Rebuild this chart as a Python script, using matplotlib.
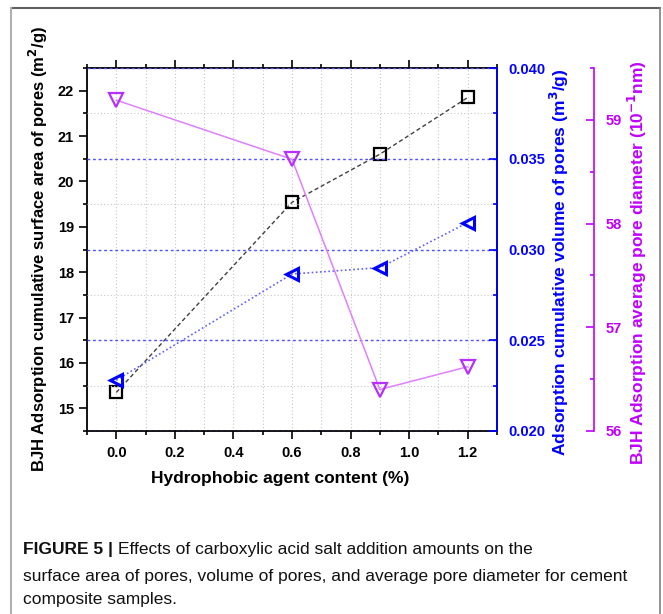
import matplotlib
matplotlib.use("Agg")
import matplotlib.pyplot as plt
from matplotlib.ticker import MultipleLocator, FormatStrFormatter
from matplotlib import font_manager
from matplotlib.lines import Line2D

# hydrophobic agent content (%)
content = [0.0, 0.6, 0.9, 1.2]
# BJH cumulative surface area of pores (m2/g)
surface_area = [15.35, 19.54, 20.60, 21.85]
# cumulative volume of pores (m3/g)
pore_volume = [0.0228, 0.02865, 0.0290, 0.03148]
# BJH average pore diameter (10^-1 nm)
pore_diameter = [59.19, 58.62, 56.40, 56.62]

x_ticks = [0.0, 0.2, 0.4, 0.6, 0.8, 1.0, 1.2]

BLUE = "#0000ff"
MAG = "#c000ff"
TICK_FS = 10.5

plt.rcParams['font.family'] = ['Liberation Sans', 'DejaVu Sans']
names = {f.name for f in font_manager.fontManager.ttflist}
cap_font = 'Liberation Sans Narrow' if 'Liberation Sans Narrow' in names else 'Liberation Sans'

fig = plt.figure(figsize=(6.63, 6.14), dpi=100)
ax1 = fig.add_axes([87 / 663, 1 - 431 / 614, 410 / 663, 363 / 614])
ax2 = ax1.twinx()
ax3 = ax1.twinx()

# grid: vertical on main axis, horizontal from the volume axis
ax1.set_xlim(-0.1, 1.3)
ax1.set_ylim(14.5, 22.5)
ax1.set_xticks(x_ticks)
ax1.xaxis.set_minor_locator(MultipleLocator(0.1))
ax1.xaxis.set_major_formatter(FormatStrFormatter('%.1f'))
ax1.yaxis.set_major_locator(MultipleLocator(1))
ax1.yaxis.set_minor_locator(MultipleLocator(0.5))
ax1.grid(True, axis='x', which='both', color='#c8c8c8', linestyle=(0, (1, 2)), linewidth=0.8)
ax1.tick_params(axis='x', which='both', direction='out', top=True, labeltop=False,
                width=1.2, labelsize=TICK_FS, pad=5)
ax1.tick_params(axis='x', which='major', length=6)
ax1.tick_params(axis='x', which='minor', length=3)
ax1.tick_params(axis='y', which='both', direction='out', left=True, right=False,
                width=1.2, labelsize=TICK_FS)
ax1.tick_params(axis='y', which='major', length=6)
ax1.tick_params(axis='y', which='minor', length=3)
for lab in ax1.get_xticklabels() + ax1.get_yticklabels():
    lab.set_fontweight('bold')
for s in ax1.spines.values():
    s.set_linewidth(1.3)

ax2.set_ylim(0.020, 0.040)
ax2.yaxis.set_major_locator(MultipleLocator(0.005))
ax2.yaxis.set_minor_locator(MultipleLocator(0.0025))
ax2.yaxis.set_major_formatter(FormatStrFormatter('%.3f'))
ax2.grid(True, axis='y', which='major', color='#5050ff', linestyle=(0, (2, 2)), linewidth=1.0)
ax2.grid(True, axis='y', which='minor', color='#c8c8c8', linestyle=(0, (1, 2)), linewidth=0.8)
ax2.tick_params(axis='y', which='both', direction='in', colors=BLUE, width=1.2,
                labelsize=TICK_FS, pad=8)
ax2.tick_params(axis='y', which='major', length=6)
ax2.tick_params(axis='y', which='minor', length=3)
ax2.spines['right'].set_color(BLUE)
ax2.spines['right'].set_linewidth(1.3)
for lab in ax2.get_yticklabels():
    lab.set_fontweight('bold')

ax3.set_ylim(56, 59.5)
ax3.yaxis.set_major_locator(MultipleLocator(1))
ax3.yaxis.set_minor_locator(MultipleLocator(0.5))
ax3.spines['right'].set_position(('axes', 1.2366))
ax3.spines['right'].set_color(MAG)
ax3.spines['right'].set_linewidth(1.2)
ax3.tick_params(axis='y', which='both', direction='in', colors=MAG, width=1.2,
                labelsize=TICK_FS, pad=8)
ax3.tick_params(axis='y', which='major', length=6)
ax3.tick_params(axis='y', which='minor', length=3)
for lab in ax3.get_yticklabels():
    lab.set_fontweight('bold')
for side in ('top', 'bottom', 'left'):
    ax3.spines[side].set_visible(False)
    ax2.spines[side].set_visible(False)

# series
ax1.plot(content, surface_area, color='#404040', linestyle=(0, (3, 2)), linewidth=1.0,
         marker='s', markersize=8, markerfacecolor='none', markeredgecolor='black',
         markeredgewidth=1.6, zorder=5)
ax2.plot(content, pore_volume, color='#6060ff', linestyle=(0, (1, 1.5)), linewidth=1.2,
         marker='<', markersize=9, markerfacecolor='none', markeredgecolor=BLUE,
         markeredgewidth=2.2, zorder=5)
ax3.plot(content, pore_diameter, color='#e080ff', linestyle='-', linewidth=1.1,
         marker='v', markersize=10, markerfacecolor='none', markeredgecolor='#b830ff',
         markeredgewidth=1.6, zorder=5)

# axis titles
fig.text(280 / 663, 1 - 478 / 614, 'Hydrophobic agent content (%)', ha='center', va='center',
         fontsize=12.5, fontweight='bold')
fig.text(38 / 663, 1 - 249 / 614, 'BJH Adsorption cumulative surface area of pores (m$^\\mathbf{2}$/g)',
         rotation=90, ha='center', va='center', fontsize=12, fontweight='bold')
fig.text(559 / 663, 1 - 262 / 614, 'Adsorption cumulative volume of pores (m$^\\mathbf{3}$/g)',
         rotation=90, ha='center', va='center', fontsize=12.6, fontweight='bold', color=BLUE)
fig.text(637 / 663, 1 - 263 / 614, 'BJH Adsorption average pore diameter (10$^\\mathbf{-1}$nm)',
         rotation=90, ha='center', va='center', fontsize=12.5, fontweight='bold', color=MAG)

# page frame
fig.add_artist(Line2D([11 / 663, 660 / 663], [1 - 8 / 614, 1 - 8 / 614],
                      transform=fig.transFigure, color='#606060', linewidth=1.5))
fig.add_artist(Line2D([11 / 663, 11 / 663], [0, 1 - 8 / 614],
                      transform=fig.transFigure, color='#b0b0b0', linewidth=1.5))
fig.add_artist(Line2D([660 / 663, 660 / 663], [0, 1 - 8 / 614],
                      transform=fig.transFigure, color='#808080', linewidth=1.2))

# caption
renderer = fig.canvas.get_renderer()
x0 = 23 / 663
head = fig.text(x0, 1 - 554 / 614, 'FIGURE 5 | ', fontsize=12.5, fontweight='bold',
                family=cap_font, color='#111111')
bb = head.get_window_extent(renderer)
fig.text(bb.x1 / fig.bbox.width, 1 - 554 / 614,
         'Effects of carboxylic acid salt addition amounts on the',
         fontsize=12.5, family=cap_font, color='#111111')
fig.text(x0, 1 - 581 / 614,
         'surface area of pores, volume of pores, and average pore diameter for cement',
         fontsize=12.5, family=cap_font, color='#111111')
fig.text(x0, 1 - 604 / 614, 'composite samples.', fontsize=12.5, family=cap_font,
         color='#111111')

fig.savefig('out.png', dpi=100)
